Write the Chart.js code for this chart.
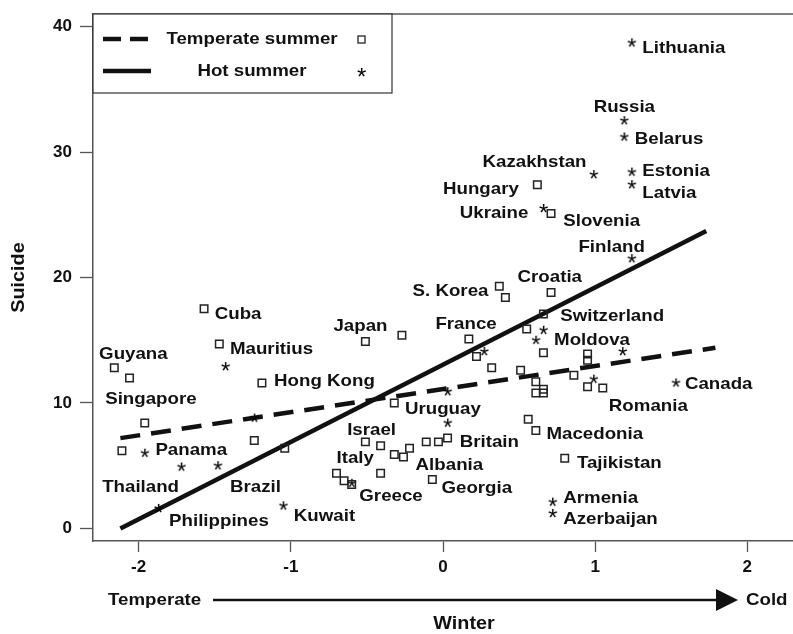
<!DOCTYPE html>
<html>
<head>
<meta charset="utf-8">
<script src="https://cdn.jsdelivr.net/npm/chart.js@4.4.0/dist/chart.umd.min.js"></script>
<style>
  html, body { margin: 0; padding: 0; background: #fff; }
</style>
</head>
<body>
<canvas id="myChart" width="793" height="634"></canvas>
<script>
// axis ticks
const xTicks = [-2, -1, 0, 1, 2];
const yTicks = [0, 10, 20, 30, 40];

// temperate summer countries (squares)
const temperateX = [-1.57, -1.47, -2.16, -2.06, -1.19, -0.51, -0.27, -1.96, -2.11, -1.24,
  -1.04, -0.32, -0.51, -0.41, -0.32, -0.26, -0.22, -0.11, -0.03, 0.03,
  -0.70, -0.65, -0.60, -0.41, -0.07, 0.37, 0.41, 0.71, 0.66, 0.55,
  0.66, 0.17, 0.22, 0.32, 0.51, 0.61, 0.61, 0.66, 0.66, 0.95,
  0.95, 0.86, 0.95, 1.05, 0.56, 0.61, 0.80, 0.62, 0.71];
const temperateY = [17.5, 14.7, 12.8, 12.0, 11.6, 14.9, 15.4, 8.4, 6.2, 7.0,
  6.4, 10.0, 6.9, 6.6, 5.9, 5.7, 6.4, 6.9, 6.9, 7.2,
  4.4, 3.8, 3.5, 4.4, 3.9, 19.3, 18.4, 18.8, 17.1, 15.9,
  14.0, 15.1, 13.7, 12.8, 12.6, 11.7, 10.8, 10.8, 11.1, 13.9,
  13.4, 12.2, 11.3, 11.2, 8.7, 7.8, 5.6, 27.4, 25.1];

// hot summer countries (asterisks)
const hotX = [-1.43, -1.24, -1.96, -1.72, -1.48, -1.87, -1.05, -0.60, 0.27, 0.66,
  0.61, 0.03, 0.03, 1.18, 0.99, 1.53, 0.72, 0.72, 1.24, 1.19,
  1.19, 0.99, 1.24, 1.24, 0.66, 1.24];
const hotY = [12.9, 8.8, 6.0, 4.9, 5.0, 1.6, 1.8, 3.6, 14.1, 15.8,
  15.0, 10.9, 8.4, 14.1, 11.9, 11.6, 2.1, 1.2, 38.7, 32.5,
  31.2, 28.2, 28.4, 27.4, 25.5, 21.5];

// regression lines
const temperateFitX = [-2.12, 1.79];
const temperateFitY = [7.2, 14.4];
const hotFitX = [-2.12, 1.73];
const hotFitY = [0, 23.7];

// country labels (left edge, vertical centre)
const countryNames = ['Lithuania', 'Russia', 'Belarus', 'Kazakhstan', 'Estonia', 'Latvia', 'Hungary',
  'Ukraine', 'Slovenia', 'Finland', 'Croatia', 'S. Korea', 'Cuba', 'Mauritius', 'Guyana',
  'Singapore', 'Hong Kong', 'Japan', 'Panama', 'Thailand', 'Brazil', 'Philippines', 'Kuwait',
  'Israel', 'Italy', 'Greece', 'Uruguay', 'France', 'Albania', 'Georgia', 'Britain',
  'Switzerland', 'Moldova', 'Canada', 'Romania', 'Macedonia', 'Tajikistan', 'Armenia', 'Azerbaijan'];
const countryX = [1.31, 0.99, 1.26, 0.26, 1.31, 1.31, 0.00,
  0.11, 0.79, 0.89, 0.49, -0.20, -1.50, -1.40, -2.26,
  -2.22, -1.11, -0.72, -1.89, -2.24, -1.40, -1.80, -0.98,
  -0.63, -0.70, -0.55, -0.25, -0.05, -0.18, -0.01, 0.11,
  0.77, 0.73, 1.59, 1.09, 0.68, 0.88, 0.79, 0.79];
const countryY = [38.3, 33.6, 31.0, 29.2, 28.5, 26.7, 27.0,
  25.1, 24.5, 22.4, 20.0, 18.9, 17.1, 14.3, 13.9,
  10.3, 11.7, 16.1, 6.2, 3.3, 3.3, 0.6, 0.95,
  7.8, 5.6, 2.6, 9.5, 16.3, 5.0, 3.2, 6.9,
  16.9, 15.0, 11.5, 9.7, 7.5, 5.2, 2.4, 0.7];

const FONT = '"Liberation Sans", Arial, Helvetica, sans-serif';
const INK = '#111';

// small canvas with a text asterisk, used as point style
function makeAsterisk() {
    const c = document.createElement('canvas');
    c.width = 15; c.height = 15;
    const g = c.getContext('2d');
    g.font = '24px ' + FONT;
    g.fillStyle = '#000';
    const m = g.measureText('*');
    const w = m.actualBoundingBoxLeft + m.actualBoundingBoxRight;
    const h = m.actualBoundingBoxAscent + m.actualBoundingBoxDescent;
    g.fillText('*', 7.5 - w / 2 + m.actualBoundingBoxLeft, 7.5 + h / 2 - m.actualBoundingBoxDescent);
    return c;
}
const asterisk = makeAsterisk();

// text drawn slightly wider, like the original figure
function wideText(ctx, text, x, y, align, size) {
    ctx.save();
    ctx.font = 'bold ' + size + 'px ' + FONT;
    ctx.textAlign = align;
    ctx.textBaseline = 'middle';
    ctx.translate(x, y);
    ctx.scale(1.1, 1);
    ctx.fillText(text, 0, 0);
    ctx.restore();
}

const decorations = {
    id: 'decorations',
    afterDraw(chart) {
        const { ctx, chartArea: a, scales: { x, y } } = chart;
        ctx.save();
        ctx.fillStyle = INK;

        // top frame line
        ctx.strokeStyle = '#555';
        ctx.lineWidth = 1.5;
        ctx.beginPath();
        ctx.moveTo(a.left, a.top);
        ctx.lineTo(a.right, a.top);
        ctx.stroke();

        // country labels
        countryNames.forEach((name, i) => {
            wideText(ctx, name, x.getPixelForValue(countryX[i]), y.getPixelForValue(countryY[i]), 'left', 17);
        });

        // legend box
        const lx = a.left, ly = a.top;
        ctx.fillStyle = '#fff';
        ctx.fillRect(lx, ly, 299, 79);
        ctx.strokeStyle = '#333';
        ctx.lineWidth = 1.2;
        ctx.strokeRect(lx, ly, 299, 79);
        ctx.strokeStyle = INK;
        ctx.lineWidth = 4.5;
        ctx.setLineDash([18, 9]);
        ctx.beginPath();
        ctx.moveTo(lx + 10, ly + 25);
        ctx.lineTo(lx + 58, ly + 25);
        ctx.stroke();
        ctx.setLineDash([]);
        ctx.beginPath();
        ctx.moveTo(lx + 10, ly + 57);
        ctx.lineTo(lx + 58, ly + 57);
        ctx.stroke();
        ctx.fillStyle = INK;
        wideText(ctx, 'Temperate summer', lx + 159, ly + 25, 'center', 17);
        wideText(ctx, 'Hot summer', lx + 159, ly + 57, 'center', 17);
        ctx.strokeStyle = '#333';
        ctx.lineWidth = 1.4;
        ctx.strokeRect(lx + 265, ly + 22, 7, 7);
        ctx.drawImage(asterisk, lx + 261, ly + 51);

        // axis titles
        ctx.save();
        ctx.translate(19, (a.top + a.bottom) / 2);
        ctx.rotate(-Math.PI / 2);
        wideText(ctx, 'Suicide', 0, 0, 'center', 18);
        ctx.restore();
        wideText(ctx, 'Winter', 464, 624, 'center', 18);

        // Temperate -> Cold arrow
        wideText(ctx, 'Temperate', 108, 600, 'left', 17);
        wideText(ctx, 'Cold', 746, 600, 'left', 17);
        ctx.strokeStyle = INK;
        ctx.lineWidth = 2.5;
        ctx.beginPath();
        ctx.moveTo(213, 600);
        ctx.lineTo(720, 600);
        ctx.stroke();
        ctx.beginPath();
        ctx.moveTo(716, 589);
        ctx.lineTo(738, 600);
        ctx.lineTo(716, 611);
        ctx.closePath();
        ctx.fill();
        ctx.restore();
    }
};

const toPoints = (xs, ys) => xs.map((v, i) => ({ x: v, y: ys[i] }));

const config = {
    type: 'scatter',
    data: {
        datasets: [
            {
                label: 'Temperate summer',
                data: toPoints(temperateX, temperateY),
                pointStyle: 'rect',
                pointRadius: 5.3,
                borderWidth: 1.5,
                borderColor: '#222',
                backgroundColor: 'rgba(0,0,0,0)'
            },
            {
                label: 'Hot summer',
                data: toPoints(hotX, hotY),
                pointStyle: asterisk
            },
            {
                type: 'line',
                label: 'Temperate fit',
                data: toPoints(temperateFitX, temperateFitY),
                borderColor: INK,
                borderWidth: 4.5,
                borderDash: [20, 11],
                pointRadius: 0,
                fill: false
            },
            {
                type: 'line',
                label: 'Hot fit',
                data: toPoints(hotFitX, hotFitY),
                borderColor: INK,
                borderWidth: 4.5,
                pointRadius: 0,
                fill: false
            }
        ]
    },
    options: {
        responsive: false,
        animation: false,
        events: [],
        layout: { autoPadding: false, padding: { top: 14, left: 0, right: 0, bottom: 0 } },
        plugins: {
            legend: { display: false },
            tooltip: { enabled: false }
        },
        scales: {
            x: {
                type: 'linear',
                min: -2.3,
                max: 2.3,
                afterFit: s => { s.height = 93; s.paddingLeft = 0; s.paddingRight = 0; },
                afterBuildTicks: s => { s.ticks = xTicks.map(v => ({ value: v })); },
                grid: { drawOnChartArea: false, drawTicks: true, tickLength: 11, tickColor: '#555', tickWidth: 1.3 },
                border: { color: '#555', width: 1.5 },
                ticks: { color: INK, padding: 5, font: { family: FONT, size: 17, weight: 'bold' } }
            },
            y: {
                type: 'linear',
                min: -1,
                max: 41,
                afterFit: s => { s.width = 93; s.paddingTop = 0; s.paddingBottom = 0; },
                afterBuildTicks: s => { s.ticks = yTicks.map(v => ({ value: v })); },
                grid: { drawOnChartArea: false, drawTicks: true, tickLength: 13, tickColor: '#555', tickWidth: 1.3 },
                border: { color: '#555', width: 1.5 },
                ticks: { color: INK, padding: 8, font: { family: FONT, size: 17, weight: 'bold' } }
            }
        }
    },
    plugins: [decorations]
};

new Chart(document.getElementById('myChart'), config);
</script>
</body>
</html>
